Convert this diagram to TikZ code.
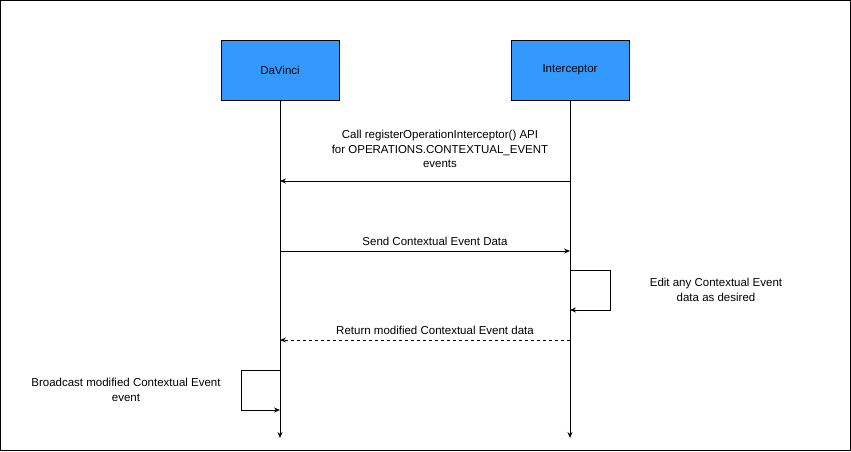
\documentclass[tikz,border=0pt]{standalone}
\usepackage{fontspec}
\setmainfont{Liberation Sans}
\usepackage{tikz}
\usetikzlibrary{positioning,arrows.meta}

\begin{document}
\begin{tikzpicture}[x=1pt,y=-1pt,
    actor/.style={draw,fill={rgb,255:red,51;green,153;blue,255},minimum width=118pt,minimum height=60pt,inner sep=0pt,font=\fontsize{11.5}{14}\selectfont},
    msg/.style={-{Stealth[length=6pt,width=5pt]},line width=0.7pt},
    lbl/.style={align=center,inner sep=0pt,font=\fontsize{11.5}{14.5}\selectfont}]
  \draw[line width=0.8pt] (0.5,0.5) rectangle (850.5,450.5);
  \useasboundingbox (0,0) rectangle (851,451);
  \node[actor](davinci) at (280,70){DaVinci};
  \node[actor](interceptor) at (570,70){Interceptor};
  \coordinate (davinciend) at (280,438);
  \coordinate (interceptorend) at (570,438);
  \draw[msg] (davinci.south) -- (davinciend);
  \draw[msg] (interceptor.south) -- (interceptorend);
  % register call
  \coordinate (reg1) at (570,181);
  \coordinate (reg2) at (280,181);
  \draw[msg] (reg1) -- (reg2);
  \node[lbl](reglabel) at (440,149){Call registerOperationInterceptor() API\\for OPERATIONS.CONTEXTUAL\_EVENT\\events};
  % send data
  \coordinate (send1) at (280,251);
  \coordinate (send2) at (570,251);
  \draw[msg] (send1) -- (send2);
  \node[lbl](sendlabel) at (435,241){Send Contextual Event Data};
  % edit loop
  \coordinate (edit1) at (570,270);
  \coordinate (edit2) at (570,310);
  \draw[msg] (edit1) -- ++(40,0) |- (edit2);
  \node[lbl](editlabel) at (716,290){Edit any Contextual Event\\data as desired};
  % return data
  \coordinate (ret1) at (570,340);
  \coordinate (ret2) at (280,340);
  \draw[msg,dashed] (ret1) -- (ret2);
  \node[lbl](retlabel) at (435,330){Return modified Contextual Event data};
  % broadcast loop
  \coordinate (bc1) at (280,370);
  \coordinate (bc2) at (280,410);
  \draw[msg] (bc1) -- ++(-39,0) |- (bc2);
  \node[lbl](bclabel) at (126,390){Broadcast modified Contextual Event\\event};
\end{tikzpicture}
\end{document}
